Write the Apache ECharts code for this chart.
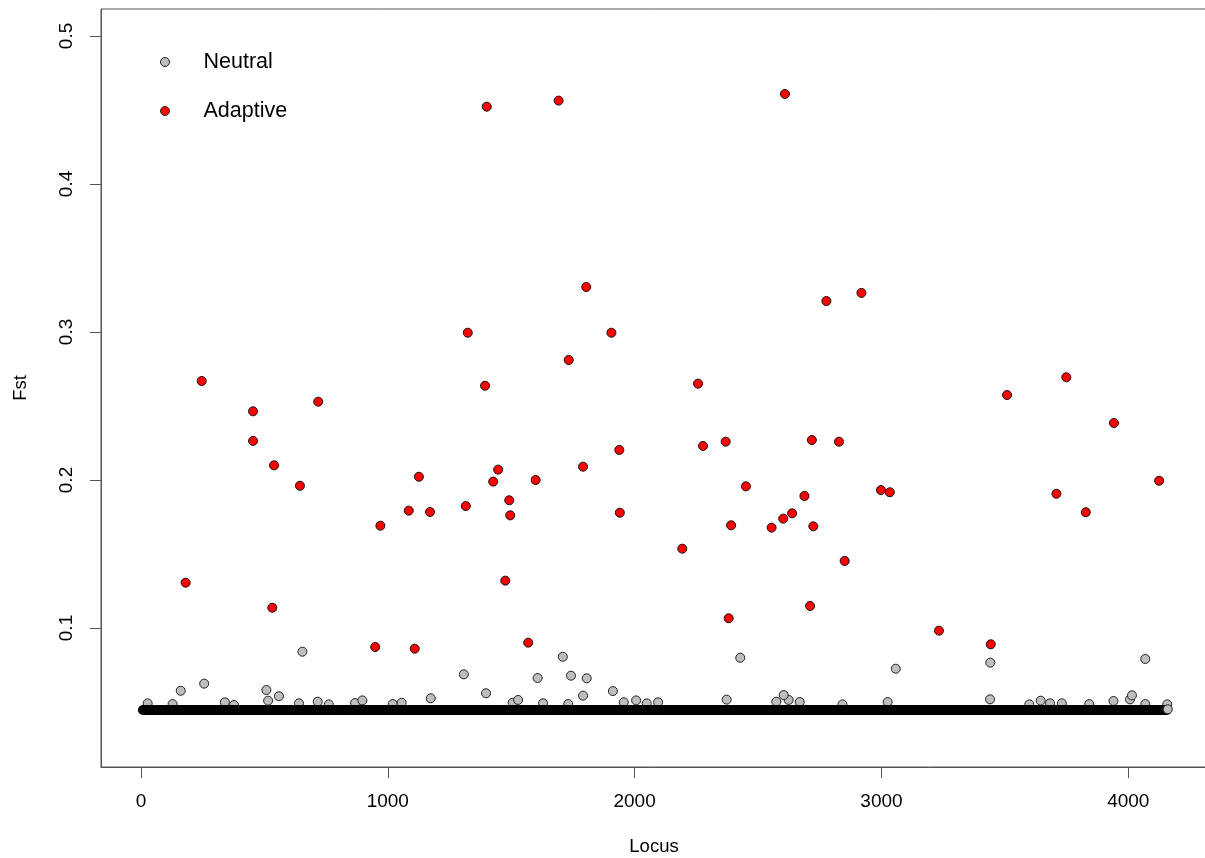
<!DOCTYPE html>
<html>
<head>
<meta charset="utf-8">
<script src="https://cdn.jsdelivr.net/npm/echarts@6/dist/echarts.min.js"></script>
<style>
  html, body { margin: 0; padding: 0; background: #fff; }
  #main { width: 1205px; height: 858px; }
</style>
</head>
<body>
<div id="main"></div>
<script>
// tick labels
var xTicks = [0, 1000, 2000, 3000, 4000];
var yTicks = [0.1, 0.2, 0.3, 0.4, 0.5];

// adaptive loci (red)
var adaptiveLocus = [181, 246, 454, 454, 539, 532, 644, 718, 949, 970, 1085, 1109, 1126, 1171, 1316, 1324,
  1401, 1394, 1427, 1447, 1476, 1492, 1496, 1569, 1599, 1692, 1733, 1791, 1804, 1906, 1938, 1940, 2193,
  2257, 2277, 2369, 2381, 2391, 2451, 2555, 2602, 2609, 2638, 2688, 2711, 2718, 2724, 2777, 2828, 2851,
  2919, 2998, 3034, 3233, 3443, 3509, 3709, 3749, 3828, 3942, 4125];
var adaptiveFst = [0.1306, 0.2669, 0.2464, 0.2264, 0.2099, 0.1137, 0.1961, 0.2529, 0.0872, 0.1691, 0.1793,
  0.0860, 0.2022, 0.1784, 0.1824, 0.2995, 0.4522, 0.2637, 0.1989, 0.2070, 0.1320, 0.1863, 0.1761, 0.0901,
  0.2000, 0.4563, 0.2811, 0.2090, 0.3304, 0.2995, 0.2203, 0.1779, 0.1536, 0.2651, 0.2230, 0.2259, 0.1066,
  0.1694, 0.1957, 0.1678, 0.1739, 0.4608, 0.1775, 0.1892, 0.1149, 0.2270, 0.1687, 0.3209, 0.2259, 0.1453,
  0.3264, 0.1932, 0.1917, 0.0982, 0.0890, 0.2574, 0.1907, 0.2694, 0.1782, 0.2385, 0.1995];

// neutral loci standing clear of the band
var neutralLocus = [161, 256, 508, 515, 559, 654, 1174, 1308, 1398, 1607, 1709, 1742, 1806, 1791, 1912,
  2428, 2604, 3058, 3441, 4015, 4069, 4160];
var neutralFst = [0.0576, 0.0624, 0.0581, 0.0509, 0.0539, 0.0840, 0.0525, 0.0687, 0.0559, 0.0662, 0.0806,
  0.0678, 0.0660, 0.0543, 0.0574, 0.0799, 0.0547, 0.0725, 0.0766, 0.0545, 0.0791, 0.0451];

// neutral loci just peeking over the band
var bumpLocus = [27, 128, 340, 377, 640, 716, 761, 867, 897, 1020, 1056, 1506, 1528, 1629, 1731, 1956,
  2006, 2049, 2095, 2373, 2574, 2624, 2669, 2842, 3025, 3440, 3599, 3645, 3683, 3731, 3842, 3940, 4007,
  4069, 4158];
var bumpFst = [0.0491, 0.0486, 0.0498, 0.0480, 0.0491, 0.0502, 0.0484, 0.0493, 0.0511, 0.0486, 0.0495,
  0.0495, 0.0514, 0.0491, 0.0486, 0.0498, 0.0511, 0.0491, 0.0498, 0.0516, 0.0502, 0.0514, 0.0500, 0.0484,
  0.0500, 0.0518, 0.0484, 0.0509, 0.0491, 0.0491, 0.0486, 0.0507, 0.0518, 0.0486, 0.0484];

// the dense mass of neutral loci (overplotted into a solid band)
var bandLocus = [8, 4156];
var bandFst = [0.0446, 0.0446];

function pairs(xs, ys) {
  return xs.map(function (x, i) { return [x, ys[i]]; });
}

var font = "'Liberation Sans', Arial, sans-serif";
var grey = "#bebebe";
var red = "#ff0000";
var lineCol = "#555";

var myChart = echarts.init(document.getElementById("main"));
var option = {
  animation: false,
  backgroundColor: "#fff",
  grid: {
    show: true,
    left: 101,
    right: -2,
    top: 9,
    bottom: 91,
    containLabel: false,
    outerBoundsMode: "none",
    borderColor: lineCol,
    borderWidth: 1,
    backgroundColor: "transparent"
  },
  legend: {
    orient: "vertical",
    left: 160,
    top: 50,
    padding: 0,
    itemWidth: 9,
    itemHeight: 9,
    itemGap: 25,
    textStyle: {
      fontFamily: font,
      fontSize: 21.5,
      color: "#000",
      lineHeight: 24,
      padding: [0, 0, 0, 29]
    },
    data: [
      { name: "Neutral", icon: "circle", itemStyle: { color: grey, borderColor: "#222", borderWidth: 1 } },
      { name: "Adaptive", icon: "circle", itemStyle: { color: red, borderColor: "#222", borderWidth: 1 } }
    ]
  },
  xAxis: {
    type: "value",
    min: -162,
    max: 4319,
    name: "Locus",
    nameLocation: "middle",
    nameGap: 70,
    nameTextStyle: { fontFamily: font, fontSize: 18.5, color: "#000" },
    splitLine: { show: false },
    axisLine: { show: true, onZero: false, lineStyle: { color: lineCol, width: 1 } },
    axisTick: {
      show: true,
      length: 11,
      inside: false,
      customValues: xTicks,
      lineStyle: { color: lineCol, width: 1 }
    },
    axisLabel: {
      customValues: xTicks,
      fontFamily: font,
      fontSize: 19,
      color: "#000",
      margin: 25,
      formatter: function (v) { return String(v); }
    }
  },
  yAxis: {
    type: "value",
    min: 0.0061,
    max: 0.5182,
    name: "Fst",
    nameLocation: "middle",
    nameGap: 71,
    nameTextStyle: { fontFamily: font, fontSize: 18.5, color: "#000" },
    splitLine: { show: false },
    axisLine: { show: true, onZero: false, lineStyle: { color: lineCol, width: 1 } },
    axisTick: {
      show: true,
      length: 11,
      inside: false,
      customValues: yTicks,
      lineStyle: { color: lineCol, width: 1 }
    },
    axisLabel: {
      customValues: yTicks,
      rotate: 90,
      fontFamily: font,
      fontSize: 19,
      color: "#000",
      margin: 25,
      formatter: function (v) { return String(v); }
    }
  },
  series: [
    {
      name: "Neutral",
      type: "scatter",
      z: 1,
      symbol: "circle",
      symbolSize: 9,
      itemStyle: { color: grey, borderColor: "#222", borderWidth: 1, opacity: 1 },
      data: pairs(bumpLocus, bumpFst)
    },
    {
      name: "band",
      type: "line",
      z: 2,
      silent: true,
      symbol: "none",
      lineStyle: { color: "#000", width: 10, cap: "round" },
      data: pairs(bandLocus, bandFst)
    },
    {
      name: "Neutral",
      type: "scatter",
      z: 3,
      symbol: "circle",
      symbolSize: 9,
      itemStyle: { color: grey, borderColor: "#222", borderWidth: 1, opacity: 1 },
      data: pairs(neutralLocus, neutralFst)
    },
    {
      name: "Adaptive",
      type: "scatter",
      z: 4,
      symbol: "circle",
      symbolSize: 9,
      itemStyle: { color: red, borderColor: "#111", borderWidth: 1, opacity: 1 },
      data: pairs(adaptiveLocus, adaptiveFst)
    }
  ]
};
myChart.setOption(option);
</script>
</body>
</html>
